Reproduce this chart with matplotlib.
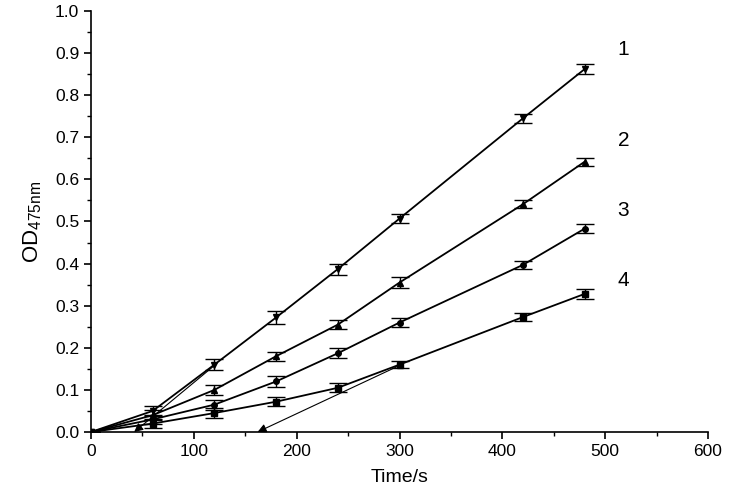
import matplotlib
matplotlib.use("Agg")
import matplotlib.pyplot as plt
from matplotlib.ticker import MultipleLocator

plt.rcParams["font.family"] = ["Liberation Sans", "DejaVu Sans"]

time_s = [0, 60, 120, 180, 240, 300, 420, 480]

od_1 = [0.0, 0.050, 0.160, 0.272, 0.387, 0.507, 0.745, 0.862]
od_2 = [0.0, 0.040, 0.100, 0.180, 0.255, 0.355, 0.541, 0.642]
od_3 = [0.0, 0.030, 0.065, 0.120, 0.187, 0.260, 0.397, 0.483]
od_4 = [0.0, 0.020, 0.045, 0.072, 0.105, 0.160, 0.273, 0.328]

err_1 = [0.0, 0.012, 0.013, 0.015, 0.013, 0.011, 0.011, 0.011]
err_2 = [0.0, 0.012, 0.011, 0.011, 0.011, 0.012, 0.010, 0.010]
err_3 = [0.0, 0.011, 0.012, 0.013, 0.012, 0.011, 0.010, 0.011]
err_4 = [0.0, 0.011, 0.012, 0.010, 0.011, 0.008, 0.009, 0.011]

series_labels = ["1", "2", "3", "4"]
label_pos = [(512, 0.908), (512, 0.693), (512, 0.526), (512, 0.360)]
markers = ["v", "^", "o", "s"]

# extrapolation arrows (start -> end on the time axis)
arrows = [((300, 0.158), (162, 0.0)), ((122, 0.162), (42, 0.0))]

fig = plt.figure(figsize=(7.36, 5.0), dpi=100)
ax = fig.add_axes([0.1236, 0.136, 0.8384, 0.842])

for y, e, m in zip([od_1, od_2, od_3, od_4], [err_1, err_2, err_3, err_4], markers):
    ax.errorbar(time_s, y, yerr=e, color="black", lw=1.3, marker=m,
                ms=4.5 if m in ("v", "^") else 4, capsize=6.5, capthick=1.0,
                elinewidth=1.0)

for (x0, y0), (x1, y1) in arrows:
    ax.annotate("", xy=(x1, y1), xytext=(x0, y0),
                arrowprops=dict(arrowstyle="-|>", color="black", lw=0.8,
                                mutation_scale=13, shrinkA=0, shrinkB=0))

for lab, (lx, ly) in zip(series_labels, label_pos):
    ax.text(lx, ly, lab, fontsize=15, ha="left", va="center")

ax.set_xlim(0, 600)
ax.set_ylim(0, 1.0)
ax.xaxis.set_major_locator(MultipleLocator(100))
ax.xaxis.set_minor_locator(MultipleLocator(50))
ax.yaxis.set_major_locator(MultipleLocator(0.1))
ax.yaxis.set_minor_locator(MultipleLocator(0.05))
ax.yaxis.set_major_formatter(plt.FuncFormatter(lambda v, p: f"{v:.1f}"))

ax.spines["top"].set_visible(False)
ax.spines["right"].set_visible(False)
for s in ("left", "bottom"):
    ax.spines[s].set_linewidth(1.2)
ax.tick_params(which="major", direction="out", length=5, width=1.2, labelsize=12.5)
ax.tick_params(which="minor", direction="out", length=3, width=1.0)

ax.set_xlabel("Time/s", fontsize=14, labelpad=7)
ax.set_ylabel(r"OD$_{\mathregular{475nm}}$", fontsize=16, labelpad=8)

fig.savefig("out.png", dpi=100)
